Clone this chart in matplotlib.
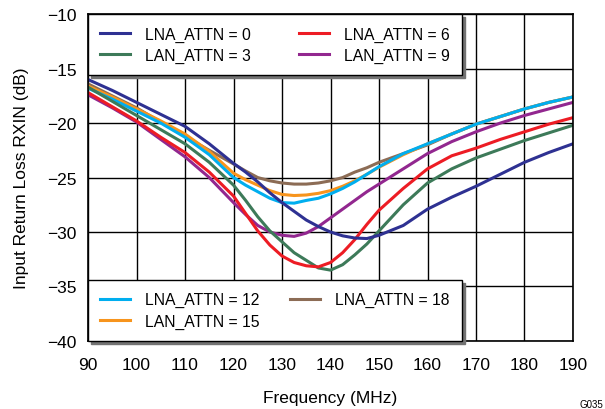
import matplotlib
matplotlib.use('Agg')
import matplotlib.pyplot as plt

plt.rcParams['font.family'] = ['Liberation Sans', 'DejaVu Sans']

# frequency points (MHz), denser around the dip
freq = [90, 95, 100, 105, 110, 115, 120, 122.5, 125, 127.5, 130, 132.5, 135, 137.5,
        140, 142.5, 145, 147.5, 150, 155, 160, 165, 170, 175, 180, 185, 190]

# input return loss (dB), one list per attenuation setting
attn0 = [-16.0, -17.0, -18.1, -19.2, -20.3, -21.9, -23.7, -24.5, -25.4, -26.4, -27.3,
         -28.1, -28.9, -29.5, -30.0, -30.35, -30.55, -30.6, -30.3, -29.4, -27.9, -26.8,
         -25.8, -24.7, -23.6, -22.7, -21.9]
attn3 = [-16.7, -18.0, -19.3, -20.6, -21.9, -23.6, -25.7, -27.1, -28.6, -29.9, -30.9,
         -31.9, -32.6, -33.3, -33.5, -33.0, -32.1, -31.1, -29.9, -27.5, -25.5, -24.2,
         -23.2, -22.4, -21.6, -20.9, -20.2]
attn6 = [-17.2, -18.5, -19.8, -21.3, -22.7, -24.5, -26.7, -28.3, -29.9, -31.2, -32.2,
         -32.8, -33.1, -33.2, -32.8, -31.9, -30.7, -29.3, -28.0, -26.0, -24.2, -23.0,
         -22.3, -21.5, -20.8, -20.1, -19.5]
attn9 = [-17.4, -18.6, -19.9, -21.5, -23.1, -25.0, -27.3, -28.4, -29.4, -30.0, -30.3,
         -30.4, -30.1, -29.5, -28.7, -27.9, -27.1, -26.3, -25.6, -24.2, -22.8, -21.7,
         -20.8, -20.0, -19.3, -18.7, -18.1]
attn12 = [-16.8, -17.8, -18.9, -20.0, -21.3, -22.9, -25.0, -25.7, -26.3, -26.9, -27.3,
          -27.35, -27.1, -26.9, -26.5, -26.0, -25.4, -24.7, -24.0, -22.8, -21.9, -21.0,
          -20.1, -19.4, -18.7, -18.1, -17.6]
attn15 = [-16.6, -17.6, -18.7, -19.8, -21.0, -22.6, -24.6, -25.2, -25.7, -26.2, -26.55,
          -26.65, -26.6, -26.45, -26.2, -25.8, -25.3, -24.7, -24.05, -22.9, -21.9, -21.0,
          -20.1, -19.4, -18.7, -18.1, -17.6]
attn18 = [-16.4, -17.5, -18.6, -19.9, -21.2, -22.5, -23.75, -24.4, -25.0, -25.3, -25.5,
          -25.6, -25.6, -25.5, -25.3, -25.0, -24.5, -24.1, -23.6, -22.8, -22.0, -21.0,
          -20.1, -19.4, -18.7, -18.1, -17.6]

labels_top = ['LNA_ATTN = 0', 'LAN_ATTN = 3', 'LNA_ATTN = 6', 'LAN_ATTN = 9']
labels_bot = ['LNA_ATTN = 12', 'LAN_ATTN = 15', 'LNA_ATTN = 18']

fig = plt.figure(figsize=(6.05, 4.10), dpi=100)
ax = fig.add_axes([0.1455, 0.166, 0.8016, 0.797])

lw = 2.2
l18, = ax.plot(freq, attn18, color='#8C6C55', lw=lw)
l15, = ax.plot(freq, attn15, color='#F7941D', lw=lw)
l12, = ax.plot(freq, attn12, color='#00AEEF', lw=lw)
l9, = ax.plot(freq, attn9, color='#92278F', lw=lw)
l3, = ax.plot(freq, attn3, color='#3D7A59', lw=lw)
l6, = ax.plot(freq, attn6, color='#ED1C24', lw=lw)
l0, = ax.plot(freq, attn0, color='#2E3192', lw=lw)

ax.set_xlim(90, 190)
ax.set_ylim(-40, -10)
ax.set_xticks(range(90, 191, 10))
ax.set_yticks(range(-40, -9, 5))
ax.grid(True, color='black', lw=1.0)
ax.tick_params(length=0, labelsize=12.5)
ax.tick_params(axis='x', pad=11.5)
ax.tick_params(axis='y', pad=8)
for s in ax.spines.values():
    s.set_linewidth(1.2)

ax.set_xlabel('Frequency (MHz)', fontsize=12.5, labelpad=13)
ax.set_ylabel('Input Return Loss RXIN (dB)', fontsize=12.5, labelpad=13)

shadow = {'ox': 2, 'oy': -2, 'color': '0.45', 'alpha': 1}
leg_kw = dict(ncol=2, mode='expand', borderaxespad=0, fontsize=11.3,
              fancybox=False, edgecolor='black', framealpha=1, shadow=shadow,
              handlelength=1.9, handletextpad=0.96, borderpad=0.78,
              labelspacing=0.39)
leg1 = ax.legend([l0, l3, l6, l9], labels_top, loc='upper left',
                 bbox_to_anchor=(0, 1, 0.771, 0), **leg_kw)
leg1.get_frame().set_linewidth(1.0)
ax.add_artist(leg1)
leg2 = ax.legend([l12, l15, l18], labels_bot, loc='lower left',
                 bbox_to_anchor=(0, 0, 0.771, 0), **leg_kw)
leg2.get_frame().set_linewidth(1.0)

fig.text(0.997, 0.0, 'G035', fontsize=7, ha='right', va='bottom')

fig.savefig('out.png', dpi=100)
